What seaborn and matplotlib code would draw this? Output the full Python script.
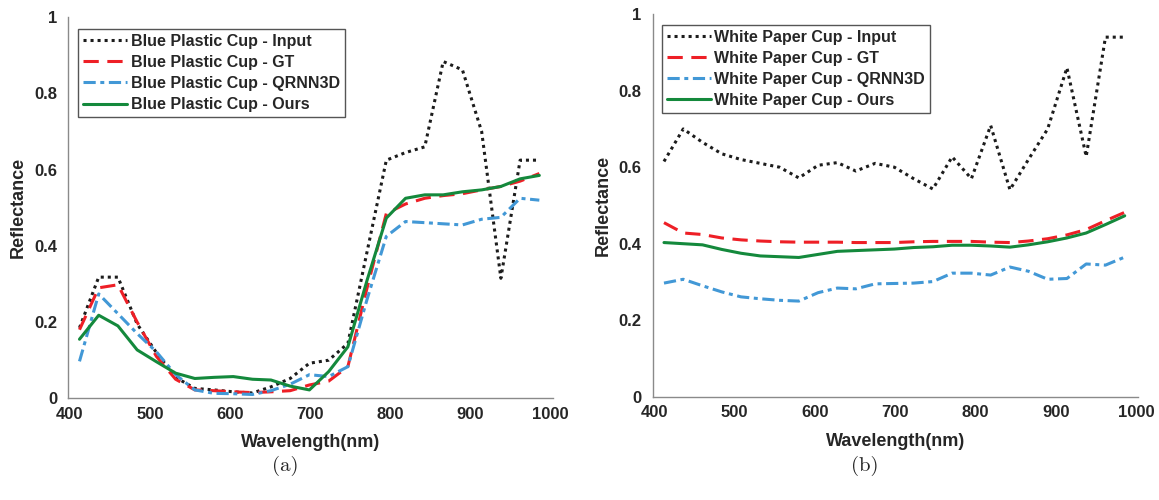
import pandas as pd
import matplotlib.pyplot as plt
import seaborn as sns

# Band centres (nm)
wavelength = [412, 436, 460, 484, 508, 532, 556, 580, 604, 628, 651, 675,
              699, 723, 747, 771, 795, 819, 843, 866, 890, 914, 938, 962, 986]

# (a) Blue plastic cup
blue_input = [0.185, 0.318, 0.318, 0.195, 0.12, 0.055, 0.026, 0.022, 0.017, 0.014, 0.03, 0.052,
              0.092, 0.100, 0.144, 0.385, 0.625, 0.645, 0.66, 0.884, 0.862, 0.70, 0.315, 0.625, 0.625]
blue_gt = [0.18, 0.29, 0.298, 0.20, 0.11, 0.05, 0.022, 0.02, 0.017, 0.015, 0.017, 0.02,
           0.035, 0.045, 0.083, 0.29, 0.485, 0.51, 0.525, 0.532, 0.537, 0.547, 0.556, 0.57, 0.59]
blue_qrnn = [0.097, 0.274, 0.222, 0.17, 0.122, 0.062, 0.022, 0.013, 0.012, 0.01, 0.02, 0.037,
             0.062, 0.057, 0.083, 0.26, 0.425, 0.464, 0.461, 0.458, 0.455, 0.47, 0.475, 0.525, 0.52]
blue_ours = [0.155, 0.218, 0.19, 0.127, 0.096, 0.066, 0.052, 0.055, 0.057, 0.05, 0.048, 0.032,
             0.022, 0.07, 0.135, 0.31, 0.473, 0.525, 0.534, 0.534, 0.542, 0.547, 0.556, 0.576, 0.585]

# (b) White paper cup
white_input = [0.615, 0.70, 0.665, 0.635, 0.62, 0.61, 0.60, 0.572, 0.605, 0.612, 0.59, 0.61,
               0.60, 0.57, 0.543, 0.627, 0.57, 0.709, 0.541, 0.62, 0.70, 0.86, 0.628, 0.94, 0.94]
white_gt = [0.455, 0.428, 0.424, 0.415, 0.41, 0.407, 0.405, 0.404, 0.404, 0.404, 0.403, 0.403,
            0.403, 0.405, 0.406, 0.406, 0.406, 0.404, 0.403, 0.407, 0.413, 0.423, 0.437, 0.46, 0.482]
white_qrnn = [0.297, 0.307, 0.29, 0.274, 0.261, 0.256, 0.252, 0.25, 0.272, 0.284, 0.282, 0.295,
              0.296, 0.297, 0.301, 0.323, 0.323, 0.318, 0.339, 0.328, 0.307, 0.309, 0.347, 0.344, 0.365]
white_ours = [0.403, 0.40, 0.397, 0.385, 0.375, 0.368, 0.366, 0.364, 0.372, 0.38, 0.382, 0.384,
              0.386, 0.39, 0.392, 0.396, 0.396, 0.394, 0.391, 0.397, 0.405, 0.415, 0.428, 0.45, 0.473]

methods = ['Input', 'GT', 'QRNN3D', 'Ours']
xticks = [400, 500, 600, 700, 800, 900, 1000]
yticks = [0, 0.2, 0.4, 0.6, 0.8, 1]
yticklabels = ['0', '0.2', '0.4', '0.6', '0.8', '1']

colors = {'Input': '#1c1c1c', 'GT': '#ee1f26', 'QRNN3D': '#4298d6', 'Ours': '#14893c'}
styles = {'Input': (0, (1, 1.3)), 'GT': (0, (5, 2.8)),
          'QRNN3D': (0, (4, 1.5, 1.3, 1.5)), 'Ours': '-'}

sns.set_style("white")
plt.rcParams['font.family'] = ['Liberation Sans', 'DejaVu Sans']
plt.rcParams['font.weight'] = 'bold'

axis_gray = '#8a8a8a'
text_gray = '#262626'

fig = plt.figure(figsize=(11.59, 5), dpi=100)
ax_a = fig.add_axes([0.0589, 0.2034, 0.4182, 0.762])
ax_b = fig.add_axes([0.5632, 0.2066, 0.4190, 0.765])

panels = [
    (ax_a, 'Blue Plastic Cup', [blue_input, blue_gt, blue_qrnn, blue_ours], (0.02, 0.969), '(a)', 0.246),
    (ax_b, 'White Paper Cup', [white_input, white_gt, white_qrnn, white_ours], (0.0185, 0.972), '(b)', 0.746),
]

for ax, name, series, anchor, tag, tag_x in panels:
    for m, vals in zip(methods, series):
        df = pd.DataFrame({'wavelength': wavelength, 'reflectance': vals})
        sns.lineplot(data=df, x='wavelength', y='reflectance', ax=ax,
                     color=colors[m], linestyle=styles[m], linewidth=2.2,
                     label=f'{name} - {m}')
    ax.set_xlim(398, 1003)
    ax.set_ylim(0, 1)
    ax.set_xticks(xticks)
    ax.set_yticks(yticks)
    ax.set_yticklabels(yticklabels)
    ax.set_xlabel('Wavelength(nm)', fontsize=13, fontweight='bold', color=text_gray, labelpad=9)
    ax.set_ylabel('Reflectance', fontsize=13, fontweight='bold', color=text_gray, labelpad=5)
    for s in ['top', 'right']:
        ax.spines[s].set_visible(False)
    for s in ['left', 'bottom']:
        ax.spines[s].set_color(axis_gray)
        ax.spines[s].set_linewidth(1.0)
    ax.tick_params(direction='in', length=4, width=0.8, color=axis_gray,
                   labelcolor=text_gray, labelsize=12)
    ax.tick_params(axis='x', pad=6)
    ax.tick_params(axis='y', pad=8)
    for lab in ax.get_xticklabels() + ax.get_yticklabels():
        lab.set_fontweight('bold')
    leg = ax.legend(loc='upper left', bbox_to_anchor=anchor, borderaxespad=0,
                    fontsize=11.5, handlelength=2.8, handletextpad=0.2,
                    labelspacing=0.38, borderpad=0.3, fancybox=False,
                    framealpha=1, edgecolor='#555555')
    leg.get_frame().set_linewidth(1.0)
    for t in leg.get_texts():
        t.set_color(text_gray)
        t.set_fontweight('bold')
    fig.text(tag_x, 0.068, tag, family='cmr10', fontsize=15, ha='center', va='center')

fig.savefig('out.png', dpi=100)
